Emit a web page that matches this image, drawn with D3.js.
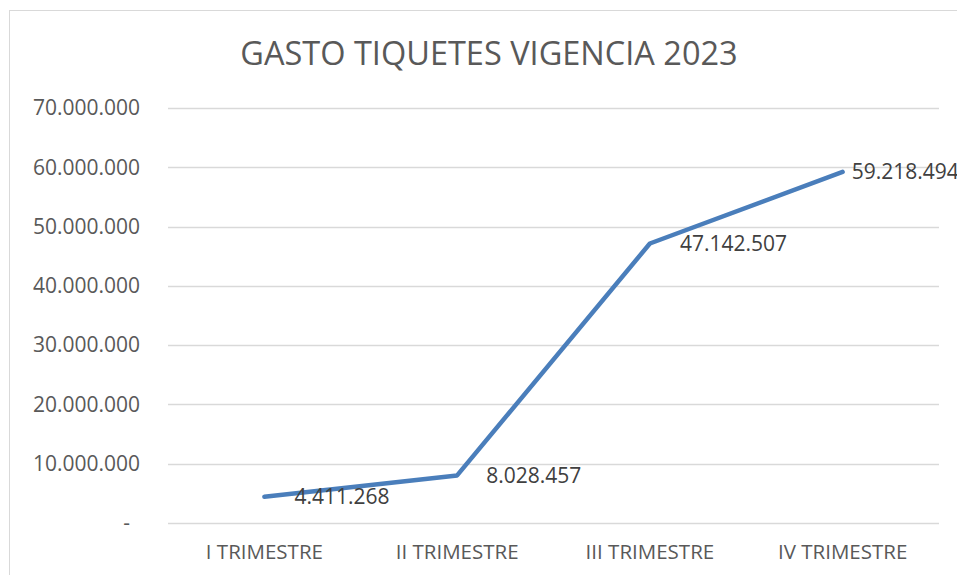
<!DOCTYPE html>
<html>
<head>
<meta charset="utf-8">
<script src="https://cdn.jsdelivr.net/npm/d3@7"></script>
<style>
  body { margin: 0; background: #fff; }
  svg { display: block; font-family: "Open Sans", "Noto Sans", sans-serif; }
</style>
</head>
<body>
<div id="chart"></div>
<script>
// Chart values
const title = "GASTO TIQUETES VIGENCIA 2023";
const quarters = ["I TRIMESTRE", "II TRIMESTRE", "III TRIMESTRE", "IV TRIMESTRE"];
const spend = [4411268, 8028457, 47142507, 59218494];
const yTicks = [0, 10000000, 20000000, 30000000, 40000000, 50000000, 60000000, 70000000];

const width = 957, height = 575;
const margin = { top: 108, right: 18, bottom: 52, left: 168 };
const innerW = width - margin.left - margin.right;
const innerH = height - margin.top - margin.bottom;
const fontFamily = "'Open Sans', 'Noto Sans', sans-serif";

const svg = d3.select("#chart").append("svg")
    .attr("width", width)
    .attr("height", height);

// Chart frame (runs off the right and bottom edges)
svg.append("rect")
    .attr("x", 9.5).attr("y", 10.5)
    .attr("width", width + 20).attr("height", height + 20)
    .attr("fill", "none")
    .attr("stroke", "#d9d9d9")
    .attr("stroke-width", 1);

svg.append("text")
    .attr("x", 489).attr("y", 65)
    .attr("text-anchor", "middle")
    .attr("fill", "#595959")
    .style("font-size", "32.5px")
    .text(title);

const g = svg.append("g")
    .attr("transform", "translate(" + margin.left + "," + margin.top + ")");

const x = d3.scaleBand().domain(quarters).range([0, innerW]);
const y = d3.scaleLinear().domain([0, 70000000]).range([innerH, 0]);

// numbers with dots as thousands separators
const fmt = d3.formatLocale({ decimal: ",", thousands: ".", grouping: [3], currency: ["$", ""] }).format(",.0f");

// Gridlines
g.append("g")
    .selectAll("line")
    .data(yTicks)
    .join("line")
    .attr("x1", 0).attr("x2", innerW)
    .attr("y1", d => Math.round(y(d)) + 0.5)
    .attr("y2", d => Math.round(y(d)) + 0.5)
    .attr("stroke", "#d9d9d9")
    .attr("stroke-width", 1.5);

// Y axis labels
const yAxis = g.append("g")
    .call(d3.axisLeft(y).tickValues(yTicks).tickSize(0).tickPadding(28)
        .tickFormat(d => d === 0 ? "-" : fmt(d)))
    .attr("font-family", fontFamily);
yAxis.select(".domain").remove();
yAxis.selectAll("text")
    .attr("fill", "#595959")
    .style("font-size", "21px")
    .attr("dx", d => d === 0 ? -10 : 0);

// X axis labels
const xAxis = g.append("g")
    .attr("transform", "translate(0," + innerH + ")")
    .call(d3.axisBottom(x).tickSize(0).tickPadding(21))
    .attr("font-family", fontFamily);
xAxis.select(".domain").remove();
xAxis.selectAll("text")
    .attr("fill", "#595959")
    .style("font-size", "20.5px");

// Line
const line = d3.line()
    .x((d, i) => x(quarters[i]) + x.bandwidth() / 2)
    .y(d => y(d));

g.append("path")
    .datum(spend)
    .attr("d", line)
    .attr("fill", "none")
    .attr("stroke", "#4a7ebb")
    .attr("stroke-width", 4.5)
    .attr("stroke-linecap", "round")
    .attr("stroke-linejoin", "round");

// Data labels
const labelDx = [30, 29, 30, 9];
g.append("g")
    .selectAll("text")
    .data(spend)
    .join("text")
    .attr("x", (d, i) => x(quarters[i]) + x.bandwidth() / 2 + labelDx[i])
    .attr("y", d => y(d))
    .attr("dy", "0.35em")
    .attr("fill", "#404040")
    .style("font-size", "21px")
    .text(d => fmt(d));
</script>
</body>
</html>
